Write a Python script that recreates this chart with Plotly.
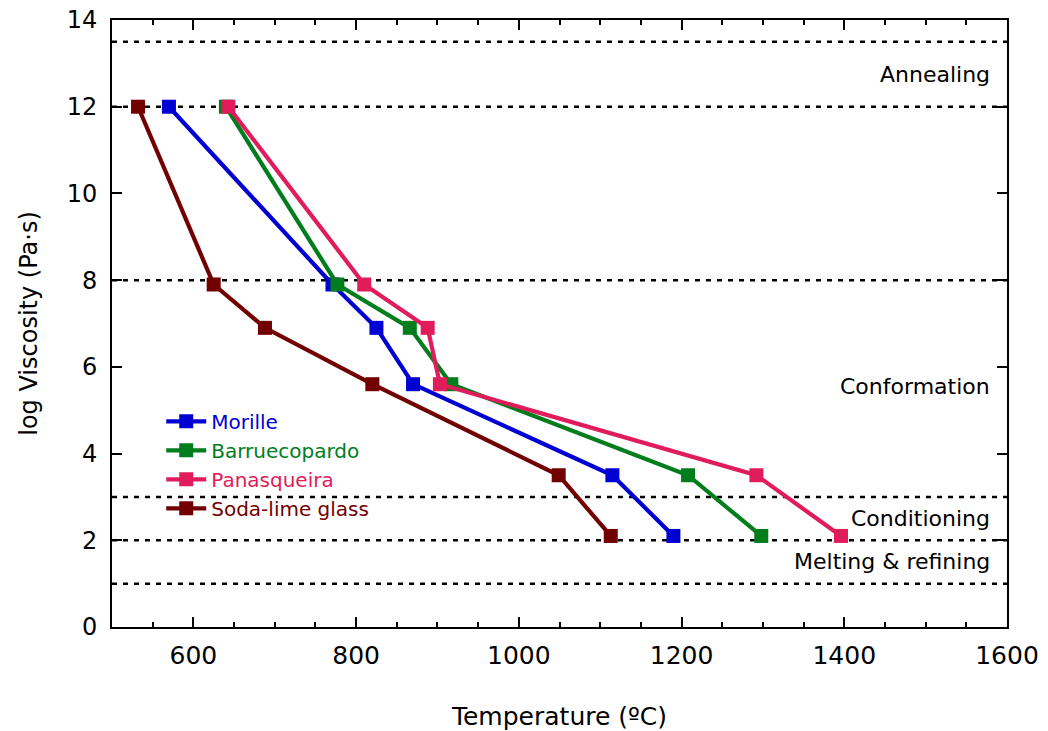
import plotly.graph_objects as go

# Data
viscosity = [12, 7.9, 6.9, 5.6, 3.5, 2.1]
temp_morille = [570, 771, 825, 870, 1115, 1190]
temp_barruecopardo = [640, 777, 866, 917, 1208, 1298]
temp_panasqueira = [643, 810, 888, 903, 1292, 1396]
temp_sodalime = [532, 625, 688, 820, 1049, 1113]

series_names = ["Morille", "Barruecopardo", "Panasqueira", "Soda-lime glass"]
series_colors = ["#0000d2", "#007d1c", "#e01d5a", "#720000"]

band_levels = [13.5, 12, 8, 3, 2, 1]
band_labels = ["Annealing", "Conformation", "Conditioning", "Melting & refining"]
band_label_y = [12.75, 5.55, 2.5, 1.5]

FONT = "DejaVu Sans, Noto Sans, sans-serif"

fig = go.Figure()

for name, color, temps in zip(series_names, series_colors,
                              [temp_morille, temp_barruecopardo, temp_panasqueira, temp_sodalime]):
    fig.add_trace(go.Scatter(
        x=temps, y=viscosity, mode="lines+markers",
        name=f'<span style="color:{color}">{name}</span>',
        line=dict(color=color, width=4.2),
        marker=dict(symbol="square", size=14, color=color),
    ))

for lv in band_levels:
    fig.add_shape(type="line", xref="paper", x0=0, x1=1, yref="y", y0=lv, y1=lv,
                  line=dict(color="black", width=2.5, dash="5px,6px"), layer="below")

for txt, yy in zip(band_labels, band_label_y):
    fig.add_annotation(x=0.983, xref="paper", y=yy, yref="y", text=txt, showarrow=False,
                       xanchor="right", yanchor="middle",
                       font=dict(family=FONT, size=22, color="black"))

fig.update_layout(
    width=1048, height=731,
    margin=dict(l=112, r=41, t=20, b=104, autoexpand=False),
    paper_bgcolor="white", plot_bgcolor="white",
    showlegend=True,
    legend=dict(x=0.055, y=0.371, xanchor="left", yanchor="top",
                font=dict(family=FONT, size=20), bgcolor="rgba(0,0,0,0)",
                itemwidth=40, tracegroupgap=0),
    font=dict(family=FONT, color="black"),
)

fig.update_xaxes(
    range=[500, 1600], tickvals=[600, 800, 1000, 1200, 1400, 1600],
    ticks="inside", ticklen=10, tickwidth=2, tickcolor="black",
    minor=dict(dtick=50, ticks="inside", ticklen=5, tickwidth=2, tickcolor="black"),
    showline=True, linecolor="black", linewidth=2, mirror="ticks",
    showgrid=False, zeroline=False, automargin=False,
    ticklabelstandoff=5, ticklabeloverflow="allow",
    tickfont=dict(family=FONT, size=25),
    title=dict(text="Temperature (ºC)", font=dict(family=FONT, size=25), standoff=41),
)
fig.update_yaxes(
    range=[0, 14], dtick=2,
    ticks="inside", ticklen=10, tickwidth=2, tickcolor="black",
    showline=True, linecolor="black", linewidth=2, mirror="ticks",
    showgrid=False, zeroline=False, automargin=False,
    ticklabelstandoff=8, ticklabeloverflow="allow",
    tickfont=dict(family=FONT, size=24),
    title=dict(text="log Viscosity (Pa·s)", font=dict(family=FONT, size=24), standoff=22),
)

fig.write_html("out.html", config={"displayModeBar": False},
               post_script="document.body.style.margin='0';document.body.style.overflow='hidden';")
